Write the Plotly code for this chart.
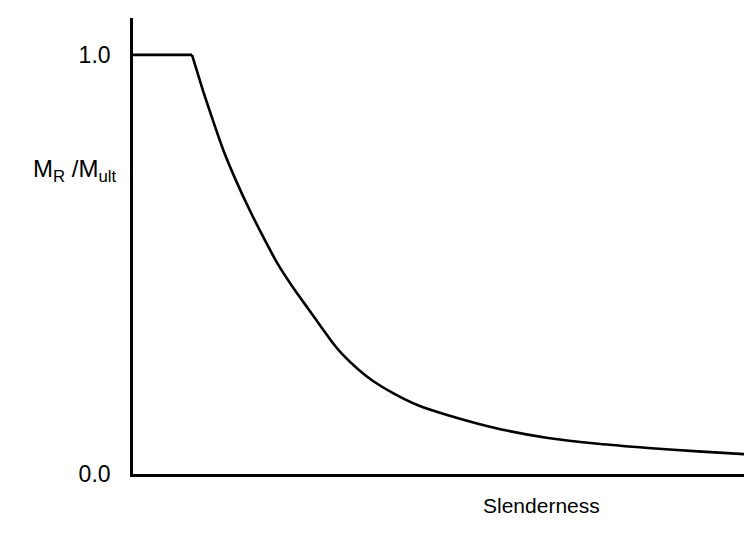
import plotly.graph_objects as go

# Slenderness (arbitrary units 0..100) vs M_R/M_ult
plateau_x = [0.0, 9.41]
plateau_y = [1.0, 1.0]

curve_x = [9.41, 11.16, 12.76, 14.35, 16.43, 18.66, 20.89, 23.13, 25.52, 27.91,
           30.30, 31.90, 33.49, 35.89, 38.28, 41.47, 45.45, 50.24, 55.02, 59.81,
           66.19, 74.16, 82.14, 90.11, 100.0]
curve_y = [1.000, 0.915, 0.843, 0.775, 0.700, 0.628, 0.562, 0.500, 0.445, 0.395,
           0.345, 0.312, 0.284, 0.250, 0.222, 0.193, 0.164, 0.140, 0.120, 0.103,
           0.086, 0.072, 0.062, 0.054, 0.045]

y_tick_vals = [0.0, 1.0]
y_tick_text = ["0.0", "1.0"]

ylabel = "M<sub>R</sub> /M<sub>ult</sub>"
xlabel = "Slenderness"

FONT = "Liberation Sans, Arial, sans-serif"

fig = go.Figure()
fig.add_trace(go.Scatter(x=plateau_x, y=plateau_y, mode="lines",
                         line=dict(color="black", width=2.6), showlegend=False,
                         hoverinfo="skip"))
fig.add_trace(go.Scatter(x=curve_x, y=curve_y, mode="lines",
                         line=dict(color="black", width=2.6, shape="spline", smoothing=0.6),
                         showlegend=False, hoverinfo="skip"))

fig.update_layout(
    width=752, height=533,
    margin=dict(l=125, r=0, t=10, b=67),
    paper_bgcolor="white", plot_bgcolor="white",
    font=dict(family=FONT, color="black"),
    xaxis=dict(range=[0, 100], showgrid=False, zeroline=False, showline=True,
               linecolor="black", linewidth=2.6, showticklabels=False, ticks=""),
    yaxis=dict(range=[0, 1.088], showgrid=False, zeroline=False, showline=True,
               linecolor="black", linewidth=2.6, tickvals=y_tick_vals,
               ticktext=y_tick_text, ticks="", ticklabelstandoff=15,
               tickfont=dict(size=23, family=FONT, color="black")),
    annotations=[
        dict(text=ylabel, xref="paper", yref="y", x=0, y=0.723, xanchor="right",
             yanchor="middle", xshift=-14, showarrow=False,
             font=dict(size=24, family=FONT, color="black")),
        dict(text=xlabel, xref="paper", yref="paper", x=0.652, y=0, xanchor="center",
             yanchor="middle", yshift=-31, showarrow=False,
             font=dict(size=21, family=FONT, color="black")),
    ],
)

fig.write_html("out.html")
